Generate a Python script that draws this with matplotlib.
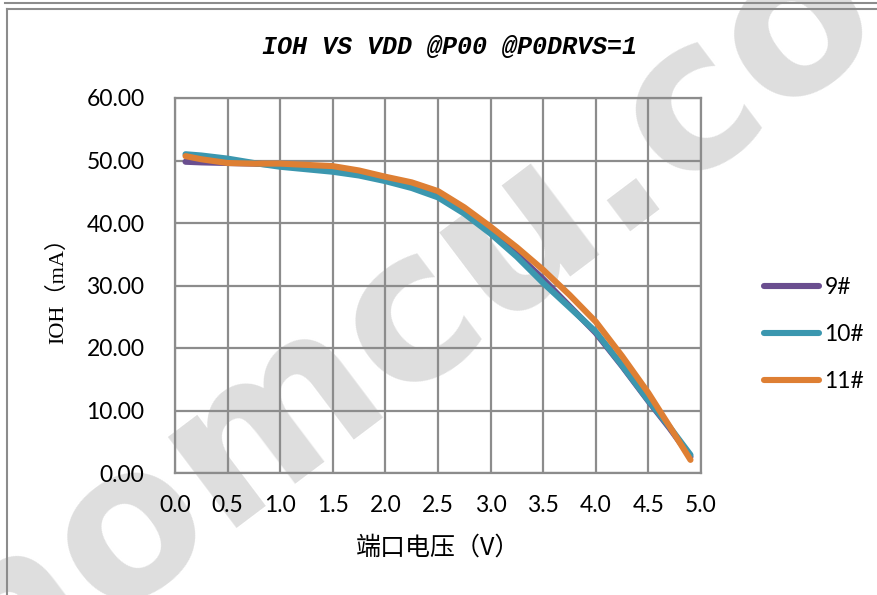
import matplotlib
matplotlib.use("Agg")
import matplotlib.pyplot as plt
from matplotlib.lines import Line2D

# ---- data ----
voltage = [0.1, 0.25, 0.5, 0.75, 1.0, 1.25, 1.5, 1.75, 2.0, 2.25, 2.5, 2.75, 3.0,
           3.25, 3.5, 3.75, 4.0, 4.25, 4.5, 4.7, 4.9]
ioh_9 = [49.8, 49.7, 49.6, 49.5, 49.3, 49.0, 48.6, 47.9, 46.9, 45.8, 44.3, 41.8, 38.6,
         35.0, 31.0, 26.7, 22.4, 17.1, 11.5, 7.2, 2.6]
ioh_10 = [51.0, 50.8, 50.3, 49.6, 49.0, 48.6, 48.2, 47.6, 46.7, 45.6, 44.1, 41.5, 38.3,
          34.6, 30.4, 26.5, 22.6, 17.2, 11.6, 7.4, 2.9]
ioh_11 = [50.7, 50.2, 49.6, 49.5, 49.5, 49.3, 49.1, 48.4, 47.4, 46.5, 45.1, 42.5, 39.4,
          36.1, 32.5, 28.5, 24.2, 18.7, 12.8, 7.5, 2.1]
series_names = ["9#", "10#", "11#"]
colors = ["#6A4E8F", "#3B97AF", "#DE7F33"]
x_ticks = [0.0, 0.5, 1.0, 1.5, 2.0, 2.5, 3.0, 3.5, 4.0, 4.5, 5.0]
y_ticks = [0, 10, 20, 30, 40, 50, 60]
title = "IOH VS VDD @P00 @P0DRVS=1"
xlabel = "端口电压（V）"
ylabel = "IOH（mA）"

W, H = 877, 595
fig = plt.figure(figsize=(W / 100, H / 100), dpi=100)
fig.patch.set_facecolor("white")

# watermark (behind everything)
fig.text(0.47, 0.47, "sinomcu.com", rotation=37, fontsize=150, color="#DEDEDE",
         fontweight="bold", family="DejaVu Sans", ha="center", va="center", zorder=-5)

# page border lines
grey = "#8C8C8C"
fig.add_artist(Line2D([5 / W, 1], [1 - 2.5 / H, 1 - 2.5 / H], color=grey, lw=1.5, zorder=-4))
fig.add_artist(Line2D([7 / W, 1], [1 - 9 / H, 1 - 9 / H], color=grey, lw=1.5, zorder=-4))
fig.add_artist(Line2D([7 / W, 7 / W], [0, 1 - 9 / H], color=grey, lw=1.5, zorder=-4))

ax = fig.add_axes([175 / W, 1 - 473 / H, (701 - 175) / W, (473 - 98) / H])
ax.patch.set_facecolor("none")

for vals, name, c in zip([ioh_9, ioh_10, ioh_11], series_names, colors):
    ax.plot(voltage, vals, color=c, lw=4.4, solid_capstyle="round",
            solid_joinstyle="round", label=name, zorder=3)

ax.set_xlim(0, 5)
ax.set_ylim(0, 60)
ax.set_xticks(x_ticks)
ax.set_xticklabels([f"{v:.1f}" for v in x_ticks])
ax.set_yticks(y_ticks)
ax.set_yticklabels([f"{v:.2f}" for v in y_ticks])
ax.grid(True, color=grey, lw=1.6, zorder=1)
ax.set_axisbelow(True)
for s in ax.spines.values():
    s.set_color(grey)
    s.set_linewidth(1.6)
ax.tick_params(length=0, labelsize=16.5, colors="black")
ax.tick_params(axis="y", pad=22)
ax.tick_params(axis="x", pad=16)
for lab in ax.get_xticklabels() + ax.get_yticklabels():
    lab.set_family("Lato")

ax.set_xlabel(xlabel, family=["Noto Sans CJK SC", "DejaVu Sans"], fontsize=18, labelpad=13)
ax.set_ylabel(ylabel, family=["Liberation Serif", "Noto Sans CJK SC"], fontsize=16, labelpad=13)

fig.text(449 / W, 1 - 47 / H, title, family="Liberation Mono", style="italic",
         fontweight="bold", fontsize=18, ha="center", va="center")

leg = fig.legend(loc="upper left", bbox_to_anchor=(743 / W, 1 - 256 / H), frameon=False,
                 prop={"family": "Lato", "size": 16.5}, handlelength=2.4, handletextpad=0.25,
                 labelspacing=1.15)
for h in leg.get_lines():
    h.set_linewidth(4.4)
    h.set_solid_capstyle("round")

fig.savefig("out.png", dpi=100)
